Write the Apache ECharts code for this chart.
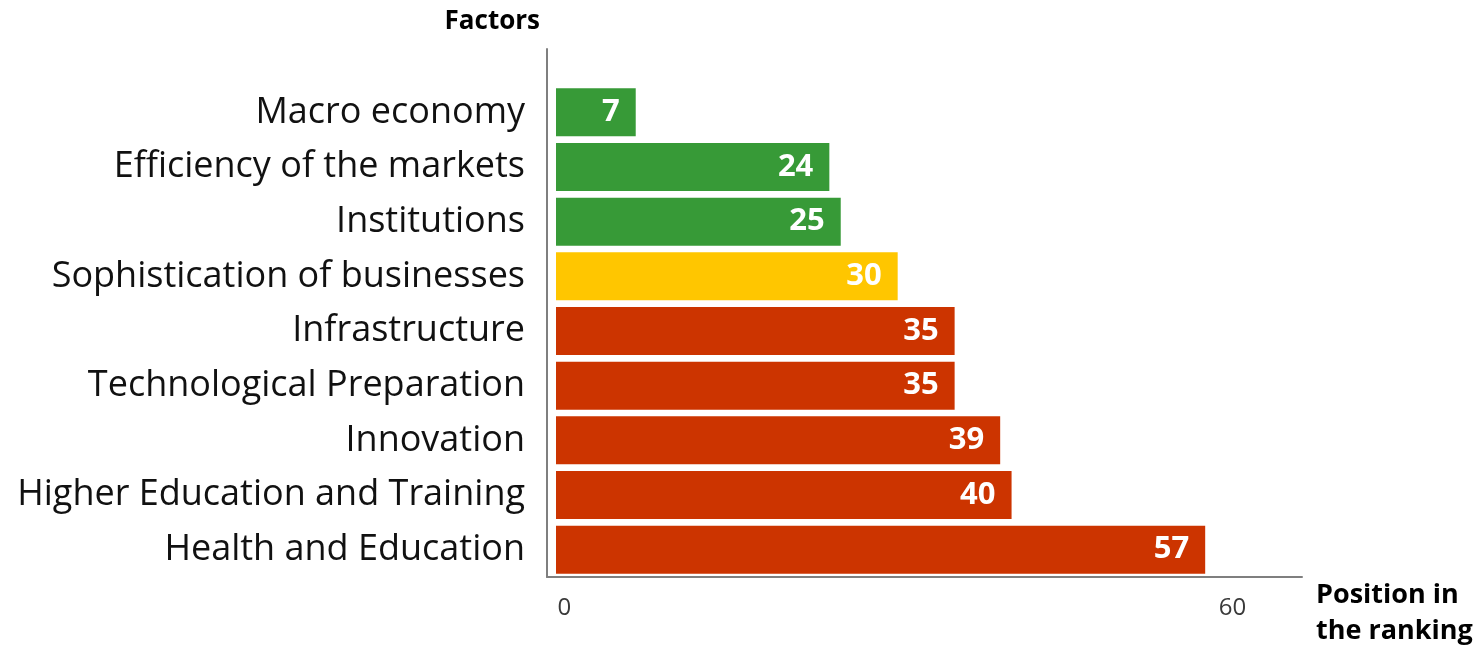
<!DOCTYPE html>
<html>
<head>
<meta charset="utf-8">
<script src="https://cdn.jsdelivr.net/npm/echarts@6/dist/echarts.min.js"></script>
<style>
  html, body { margin: 0; padding: 0; background: #ffffff; }
  #chart { width: 1484px; height: 649px; }
</style>
</head>
<body>
<div id="chart"></div>
<script>
// Competitiveness factors and their position in the ranking
const factors = [
  'Macro economy',
  'Efficiency of the markets',
  'Institutions',
  'Sophistication of businesses',
  'Infrastructure',
  'Technological Preparation',
  'Innovation',
  'Higher Education and Training',
  'Health and Education'
];
const positions = [7, 24, 25, 30, 35, 35, 39, 40, 57];
// good / middle / weak grouping of each factor
const groups = ['good', 'good', 'good', 'middle', 'weak', 'weak', 'weak', 'weak', 'weak'];
const xTickValues = [0, 60];

const groupColors = { good: '#379a37', middle: '#ffc600', weak: '#cc3400' };
const textFont = '"Open Sans", "Noto Sans", sans-serif';

const chart = echarts.init(document.getElementById('chart'), null, { renderer: 'canvas' });

chart.setOption({
  animation: false,
  backgroundColor: '#ffffff',
  grid: [
    // frame carrying the two axis lines and the scale labels
    { left: 547, right: 182, top: 49, bottom: 65 },
    // bar area
    { left: 556, right: 182, top: 85, bottom: 72 }
  ],
  xAxis: [
    {
      gridIndex: 0, type: 'value', min: -1.57, max: 66.24,
      axisLine: { show: true, onZero: false, lineStyle: { color: '#7f7f7f', width: 2 } },
      axisTick: { show: false },
      splitLine: { show: false },
      axisLabel: {
        customValues: xTickValues,
        margin: 19,
        color: '#3a3a3a',
        fontFamily: textFont,
        fontSize: 24
      },
      name: 'Position in\nthe ranking',
      nameLocation: 'end',
      nameGap: 14,
      nameTextStyle: {
        fontFamily: textFont, fontWeight: 'bold', fontSize: 27, color: '#000000',
        align: 'left', verticalAlign: 'top', lineHeight: 36
      }
    },
    {
      gridIndex: 1, type: 'value', min: 0, max: 65.5, show: false
    }
  ],
  yAxis: [
    {
      gridIndex: 0, type: 'value', min: 0, max: 1,
      axisLine: { show: true, onZero: false, lineStyle: { color: '#7f7f7f', width: 2 } },
      axisTick: { show: false },
      axisLabel: { show: false },
      splitLine: { show: false },
      name: 'Factors',
      nameLocation: 'end',
      nameGap: 27,
      nameTextStyle: {
        fontFamily: textFont, fontWeight: 'bold', fontSize: 26, color: '#000000',
        align: 'right', verticalAlign: 'middle', padding: [0, 7, 0, 0]
      }
    },
    {
      gridIndex: 1, type: 'category', data: factors, inverse: true,
      axisLine: { show: false },
      axisTick: { show: false },
      splitLine: { show: false },
      axisLabel: {
        margin: 31,
        color: '#111111',
        fontFamily: textFont,
        fontSize: 36
      }
    }
  ],
  series: [
    {
      type: 'bar',
      xAxisIndex: 1,
      yAxisIndex: 1,
      barWidth: 48,
      data: positions.map((v, i) => ({
        value: v,
        itemStyle: { color: groupColors[groups[i]] }
      })),
      label: {
        show: true,
        position: 'insideRight',
        distance: 16,
        color: '#ffffff',
        fontFamily: textFont,
        fontWeight: 'bold',
        fontSize: 31
      }
    }
  ]
});
</script>
</body>
</html>
